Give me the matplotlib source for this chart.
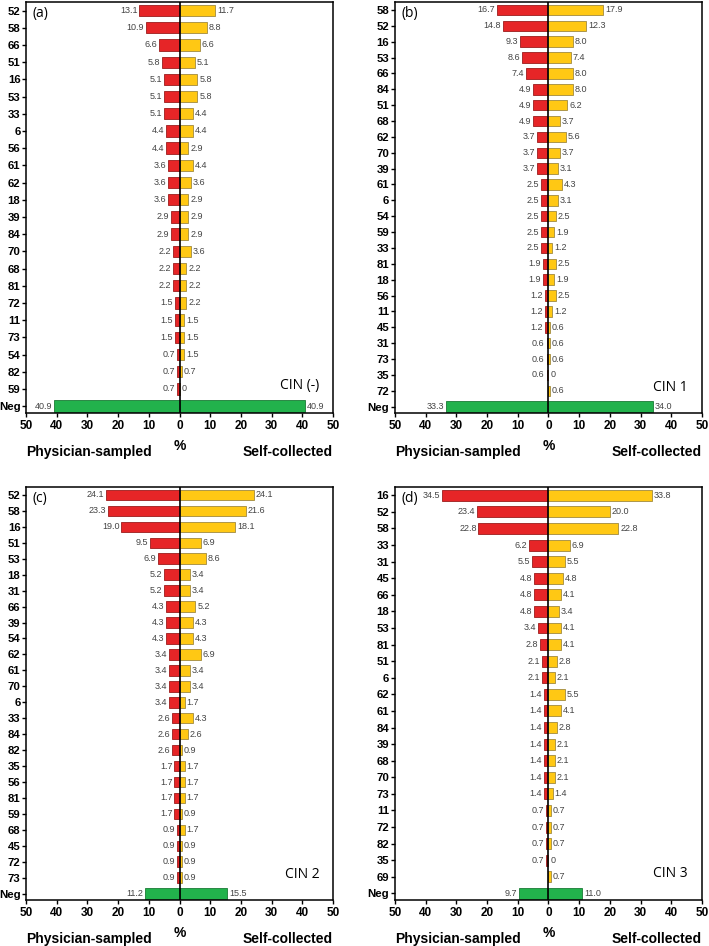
import numpy as np
import matplotlib.pyplot as plt
from matplotlib.transforms import blended_transform_factory

plt.rcParams['font.family'] = ['Liberation Sans', 'DejaVu Sans']

# ---- data (percent) ----
a_types = ["52", "58", "66", "51", "16", "53", "33", "6", "56", "61", "62", "18", "39", "84",
           "70", "68", "81", "72", "11", "73", "54", "82", "59", "Neg"]
a_phys = [13.1, 10.9, 6.6, 5.8, 5.1, 5.1, 5.1, 4.4, 4.4, 3.6, 3.6, 3.6, 2.9, 2.9,
          2.2, 2.2, 2.2, 1.5, 1.5, 1.5, 0.7, 0.7, 0.7, 40.9]
a_self = [11.7, 8.8, 6.6, 5.1, 5.8, 5.8, 4.4, 4.4, 2.9, 4.4, 3.6, 2.9, 2.9, 2.9,
          3.6, 2.2, 2.2, 2.2, 1.5, 1.5, 1.5, 0.7, 0, 40.9]

b_types = ["58", "52", "16", "53", "66", "84", "51", "68", "62", "70", "39", "61", "6", "54",
           "59", "33", "81", "18", "56", "11", "45", "31", "73", "35", "72", "Neg"]
b_phys = [16.7, 14.8, 9.3, 8.6, 7.4, 4.9, 4.9, 4.9, 3.7, 3.7, 3.7, 2.5, 2.5, 2.5,
          2.5, 2.5, 1.9, 1.9, 1.2, 1.2, 1.2, 0.6, 0.6, 0.6, None, 33.3]
b_self = [17.9, 12.3, 8.0, 7.4, 8.0, 8.0, 6.2, 3.7, 5.6, 3.7, 3.1, 4.3, 3.1, 2.5,
          1.9, 1.2, 2.5, 1.9, 2.5, 1.2, 0.6, 0.6, 0.6, 0, 0.6, 34.0]

c_types = ["52", "58", "16", "51", "53", "18", "31", "66", "39", "54", "62", "61", "70", "6",
           "33", "84", "82", "35", "56", "81", "59", "68", "45", "72", "73", "Neg"]
c_phys = [24.1, 23.3, 19.0, 9.5, 6.9, 5.2, 5.2, 4.3, 4.3, 4.3, 3.4, 3.4, 3.4, 3.4,
          2.6, 2.6, 2.6, 1.7, 1.7, 1.7, 1.7, 0.9, 0.9, 0.9, 0.9, 11.2]
c_self = [24.1, 21.6, 18.1, 6.9, 8.6, 3.4, 3.4, 5.2, 4.3, 4.3, 6.9, 3.4, 3.4, 1.7,
          4.3, 2.6, 0.9, 1.7, 1.7, 1.7, 0.9, 1.7, 0.9, 0.9, 0.9, 15.5]

d_types = ["16", "52", "58", "33", "31", "45", "66", "18", "53", "81", "51", "6", "62", "61",
           "84", "39", "68", "70", "73", "11", "72", "82", "35", "69", "Neg"]
d_phys = [34.5, 23.4, 22.8, 6.2, 5.5, 4.8, 4.8, 4.8, 3.4, 2.8, 2.1, 2.1, 1.4, 1.4,
          1.4, 1.4, 1.4, 1.4, 1.4, 0.7, 0.7, 0.7, 0.7, None, 9.7]
d_self = [33.8, 20.0, 22.8, 6.9, 5.5, 4.8, 4.1, 3.4, 4.1, 4.1, 2.8, 2.1, 5.5, 4.1,
          2.8, 2.1, 2.1, 2.1, 1.4, 0.7, 0.7, 0.7, 0, 0.7, 11.0]

panels = [
    ("(a)", "CIN (-)", a_types, a_phys, a_self),
    ("(b)", "CIN 1", b_types, b_phys, b_self),
    ("(c)", "CIN 2", c_types, c_phys, c_self),
    ("(d)", "CIN 3", d_types, d_phys, d_self),
]
positions = [
    [0.0367, 0.5634, 0.433, 0.4345],
    [0.557, 0.5634, 0.433, 0.4345],
    [0.0367, 0.0486, 0.433, 0.4366],
    [0.557, 0.0486, 0.433, 0.4366],
]

RED, RED_EDGE = "#e62527", "#9b1c1c"
YEL, YEL_EDGE = "#ffc814", "#a08a40"
GRN, GRN_EDGE = "#22b24c", "#1a7a35"
LBL = "#444444"


def fmt(v):
    return "0" if v == 0 else "%.1f" % v


fig = plt.figure(figsize=(7.09, 9.46), dpi=100)

for (tag, cin, types, phys, selfc), pos in zip(panels, positions):
    ax = fig.add_axes(pos)
    n = len(types)
    y = np.arange(n)
    p = np.array([np.nan if v is None else v for v in phys], dtype=float)
    s = np.array(selfc, dtype=float)
    cols_p = [GRN if t == "Neg" else RED for t in types]
    cols_s = [GRN if t == "Neg" else YEL for t in types]
    edge_p = [GRN_EDGE if t == "Neg" else RED_EDGE for t in types]
    edge_s = [GRN_EDGE if t == "Neg" else YEL_EDGE for t in types]
    ax.barh(y, -np.nan_to_num(p), height=0.66, color=cols_p, edgecolor=edge_p, linewidth=0.6, zorder=2)
    ax.barh(y, s, height=0.66, color=cols_s, edgecolor=edge_s, linewidth=0.6, zorder=2)
    for yi, pv, sv in zip(y, p, s):
        if not np.isnan(pv):
            ax.text(-pv - 0.6, yi, fmt(pv), ha="right", va="center", fontsize=6.5, color=LBL)
        ax.text(sv + 0.6, yi, fmt(sv), ha="left", va="center", fontsize=6.5, color=LBL)
    ax.axvline(0, color="black", lw=1.2, zorder=3)

    ax.set_xlim(-50, 50)
    ax.set_ylim(n - 1 + 0.4, -0.5)
    ax.set_yticks(y)
    ax.set_yticklabels(types, fontsize=8.2, fontweight="bold")
    ticks = np.arange(-50, 51, 10)
    ax.set_xticks(ticks)
    ax.set_xticklabels([str(abs(t)) for t in ticks], fontsize=8.5, fontweight="bold")
    ax.tick_params(axis="both", direction="out", length=3, width=1, pad=2)
    ax.tick_params(axis="y", pad=1)
    for sp in ax.spines.values():
        sp.set_linewidth(1.1)

    ax.text(0.02, 0.972, tag, transform=ax.transAxes, ha="left", va="center", fontsize=10,
            family=["Open Sans", "DejaVu Sans"])
    tr = blended_transform_factory(ax.transAxes, ax.transData)
    ax.text(0.955, n - 2 - 0.2, cin, transform=tr, ha="right", va="center", fontsize=10,
            fontweight="medium", family=["Open Sans", "DejaVu Sans"])

    ax.annotate("%", xy=(0.5, 0), xycoords="axes fraction", xytext=(0, -24), textcoords="offset points",
                ha="center", va="center", fontsize=10, fontweight="bold")
    ax.annotate("Physician-sampled", xy=(0, 0), xycoords="axes fraction", xytext=(0, -28),
                textcoords="offset points", ha="left", va="center", fontsize=10, fontweight="bold")
    ax.annotate("Self-collected", xy=(1, 0), xycoords="axes fraction", xytext=(0, -28),
                textcoords="offset points", ha="right", va="center", fontsize=10, fontweight="bold")

fig.savefig("out.png", dpi=100)
